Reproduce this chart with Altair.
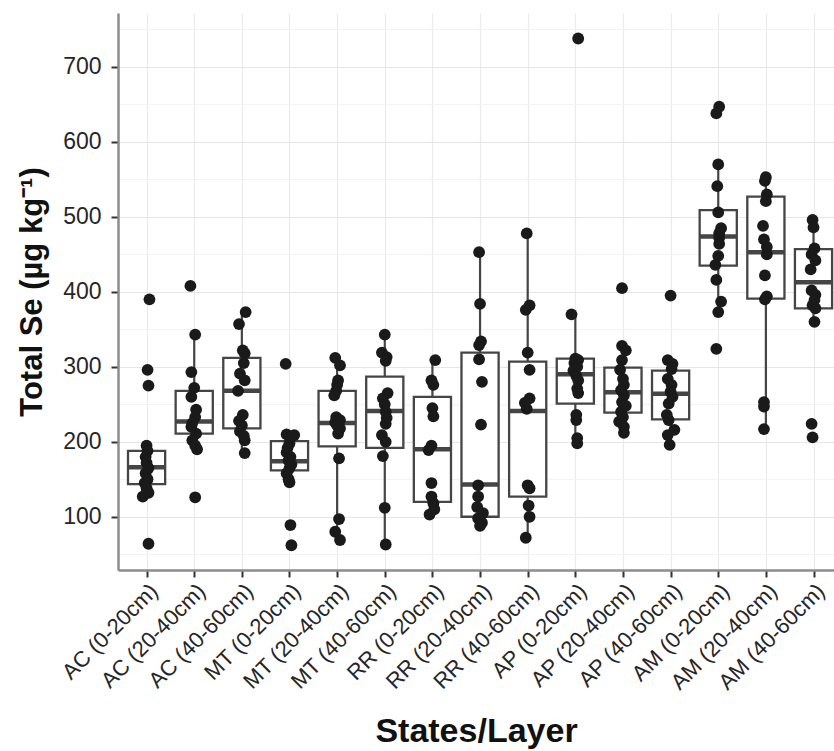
import altair as alt
import pandas as pd

categories = ["AC (0-20cm)", "AC (20-40cm)", "AC (40-60cm)",
              "MT (0-20cm)", "MT (20-40cm)", "MT (40-60cm)",
              "RR (0-20cm)", "RR (20-40cm)", "RR (40-60cm)",
              "AP (0-20cm)", "AP (20-40cm)", "AP (40-60cm)",
              "AM (0-20cm)", "AM (20-40cm)", "AM (40-60cm)"]

# box statistics (ug/kg)
whisker_low = [127, 190, 184, 146, 69, 62, 102, 88, 72, 198, 212, 196, 373, 217, 360]
q1 = [143.6, 211, 218, 162, 194, 192, 120, 100, 127, 251, 239, 230, 435, 391, 378]
median = [166, 227, 268, 174, 225, 241, 190, 143, 241, 290, 266, 264, 474, 453, 413]
q3 = [188, 268, 312, 201, 268, 287, 260, 319, 307, 311, 299, 295, 509, 527, 457]
whisker_high = [195, 343, 372, 209, 312, 343, 309, 453, 478, 370, 328, 309, 570, 553, 496]

# individual samples (ug/kg) and their horizontal jitter (in category widths)
ac_0_20 = [390, 296, 275, 195, 188, 180, 172, 165, 158, 150, 145, 138, 132, 127, 64]
ac_0_20_j = [0.06, 0.02, 0.04, 0.0, 0.02, -0.02, 0.0, 0.04, -0.02, 0.02, -0.04, 0.0, 0.04, -0.08, 0.04]
ac_20_40 = [408, 343, 293, 272, 260, 243, 233, 225, 220, 211, 202, 195, 190, 126]
ac_20_40_j = [-0.08, 0.02, -0.06, 0.0, -0.06, 0.04, 0.02, -0.04, -0.06, 0.04, -0.04, 0.02, 0.06, 0.02]
ac_40_60 = [373, 357, 322, 318, 305, 291, 282, 268, 236, 228, 222, 214, 208, 202, 185]
ac_40_60_j = [0.08, -0.06, 0.02, 0.06, 0.04, -0.04, 0.06, -0.08, 0.02, -0.06, 0.0, -0.04, 0.04, 0.06, 0.06]
mt_0_20 = [304, 210, 209, 205, 198, 192, 186, 180, 175, 170, 165, 158, 150, 146, 89, 62]
mt_0_20_j = [-0.08, -0.06, 0.1, 0.02, 0.0, -0.04, -0.06, 0.02, -0.02, 0.04, 0.0, -0.06, -0.02, 0.0, 0.02, 0.04]
mt_20_40 = [312, 302, 282, 276, 268, 262, 233, 229, 226, 222, 218, 211, 178, 97, 80, 69]
mt_20_40_j = [-0.04, 0.06, 0.02, 0.0, -0.02, -0.06, -0.02, 0.06, -0.04, 0.0, 0.06, 0.02, 0.04, 0.04, -0.04, 0.06]
mt_40_60 = [343, 319, 313, 308, 265, 258, 250, 240, 232, 224, 209, 200, 181, 112, 63]
mt_40_60_j = [0.0, -0.06, 0.04, 0.02, 0.06, -0.04, 0.0, 0.02, 0.04, 0.02, -0.06, 0.02, -0.04, 0.0, 0.02]
rr_0_20 = [309, 282, 276, 245, 234, 195, 189, 145, 127, 118, 110, 103]
rr_0_20_j = [0.06, -0.02, 0.02, 0.0, 0.02, -0.02, -0.08, -0.02, -0.02, 0.02, 0.04, -0.06]
rr_20_40 = [453, 384, 334, 329, 310, 280, 223, 142, 127, 113, 105, 98, 92, 88]
rr_20_40_j = [-0.02, 0.0, 0.02, -0.02, -0.02, 0.04, 0.02, -0.04, -0.04, -0.06, 0.06, -0.04, 0.04, 0.0]
rr_40_60 = [478, 382, 376, 319, 296, 258, 252, 244, 142, 138, 115, 100, 72]
rr_40_60_j = [-0.02, 0.04, -0.04, 0.0, 0.04, 0.04, -0.06, -0.02, 0.0, 0.04, 0.02, 0.04, -0.04]
ap_0_20 = [738, 370, 311, 309, 305, 300, 295, 288, 282, 271, 265, 236, 229, 205, 198]
ap_0_20_j = [0.06, -0.08, 0.0, 0.06, -0.02, 0.04, -0.04, 0.02, 0.06, 0.04, 0.06, 0.02, 0.02, 0.04, 0.04]
ap_20_40 = [405, 328, 322, 309, 296, 284, 276, 269, 262, 253, 248, 240, 233, 227, 220, 212]
ap_20_40_j = [-0.02, -0.02, 0.06, -0.02, -0.06, 0.0, 0.02, -0.04, 0.02, -0.02, 0.06, -0.04, 0.0, -0.08, 0.02, 0.02]
ap_40_60 = [395, 309, 304, 297, 284, 276, 267, 260, 251, 236, 229, 216, 209, 196]
ap_40_60_j = [0.0, -0.06, 0.04, 0.02, -0.06, 0.02, 0.0, 0.04, -0.04, -0.08, -0.04, 0.08, -0.06, -0.02]
am_0_20 = [647, 638, 570, 541, 506, 485, 478, 472, 464, 448, 436, 416, 387, 373, 324]
am_0_20_j = [0.02, -0.04, 0.0, -0.02, 0.0, 0.06, 0.02, 0.02, 0.02, 0.0, -0.06, -0.04, 0.06, 0.0, -0.04]
am_20_40 = [553, 548, 530, 521, 488, 470, 460, 450, 422, 394, 390, 253, 247, 217]
am_20_40_j = [0.0, -0.02, 0.02, 0.0, -0.06, -0.04, 0.02, 0.02, -0.02, 0.02, -0.02, -0.04, -0.04, -0.04]
am_40_60 = [496, 486, 458, 450, 442, 430, 402, 396, 389, 382, 378, 360, 224, 206]
am_40_60_j = [-0.02, 0.0, 0.02, -0.04, 0.04, -0.06, -0.04, 0.04, 0.02, -0.02, 0.04, 0.02, -0.04, -0.02]

samples = [ac_0_20, ac_20_40, ac_40_60, mt_0_20, mt_20_40, mt_40_60,
           rr_0_20, rr_20_40, rr_40_60, ap_0_20, ap_20_40, ap_40_60,
           am_0_20, am_20_40, am_40_60]
jitters = [ac_0_20_j, ac_20_40_j, ac_40_60_j, mt_0_20_j, mt_20_40_j, mt_40_60_j,
           rr_0_20_j, rr_20_40_j, rr_40_60_j, ap_0_20_j, ap_20_40_j, ap_40_60_j,
           am_0_20_j, am_20_40_j, am_40_60_j]

rows = []
for i, (vals, js) in enumerate(zip(samples, jitters)):
    for v, j in zip(vals, js):
        rows.append({"idx": i, "jit": j, "value": v})
pts = pd.DataFrame(rows)

box = pd.DataFrame({"idx": list(range(len(categories))), "wlo": whisker_low, "q1": q1,
                    "med": median, "q3": q3, "whi": whisker_high})

FONT = "Liberation Sans"
label_js = "[" + ",".join("'" + c + "'" for c in categories) + "]"

x_scale = alt.Scale(domain=[-0.6, 14.43], nice=False, zero=False)
y_scale = alt.Scale(domain=[29, 772], nice=False, zero=False)

x_axis = alt.Axis(values=list(range(len(categories))), labelExpr=label_js + "[datum.value]",
                  title="States/Layer", labelAngle=-45, labelAlign="right", labelBaseline="top",
                  labelFontSize=22, labelColor="#262626", labelPadding=3,
                  tickSize=7, tickWidth=2, tickColor="#333333",
                  domainColor="#8c8c8c", domainWidth=2.5,
                  gridColor="#ebebeb", gridWidth=1.2,
                  titleFontSize=34, titleFontWeight="bold", titleColor="#111111",
                  titlePadding=21, labelOverlap=False, labelFlush=False)

major = "datum.value % 100 == 0"
y_axis = alt.Axis(values=list(range(50, 800, 50)),
                  labelExpr=f"{major} ? datum.label : ''",
                  title="Total Se (µg kg⁻¹)",
                  labelFontSize=23, labelColor="#262626", labelPadding=10,
                  tickSize=7, tickWidth=2,
                  tickColor={"condition": {"test": major, "value": "#333333"}, "value": "rgba(0,0,0,0)"},
                  domainColor="#8c8c8c", domainWidth=2.5,
                  gridColor={"condition": {"test": major, "value": "#e6e6e6"}, "value": "#f3f3f3"},
                  gridWidth=1.2,
                  titleFontSize=31, titleFontWeight="bold", titleColor="#111111",
                  titlePadding=14)

whisk = alt.Chart(box).mark_rule(color="#454545", strokeWidth=2.2).encode(
    x=alt.X("idx:Q", scale=x_scale, axis=x_axis),
    y=alt.Y("wlo:Q", scale=y_scale, axis=y_axis),
    y2="whi:Q",
)

rects = alt.Chart(box).transform_calculate(
    xl="datum.idx - 0.39", xr="datum.idx + 0.39"
).mark_rect(fill="white", stroke="#454545", strokeWidth=2.3).encode(
    x=alt.X("xl:Q", scale=x_scale, axis=x_axis),
    x2="xr:Q",
    y=alt.Y("q1:Q", scale=y_scale, axis=y_axis),
    y2="q3:Q",
)

meds = alt.Chart(box).transform_calculate(
    xl="datum.idx - 0.39", xr="datum.idx + 0.39"
).mark_rule(color="#454545", strokeWidth=4.5).encode(
    x=alt.X("xl:Q", scale=x_scale, axis=x_axis),
    x2="xr:Q",
    y=alt.Y("med:Q", scale=y_scale, axis=y_axis),
)

dots = alt.Chart(pts).transform_calculate(
    xj="datum.idx + datum.jit"
).mark_circle(size=139, color="#1a1a1a", opacity=1).encode(
    x=alt.X("xj:Q", scale=x_scale, axis=x_axis),
    y=alt.Y("value:Q", scale=y_scale, axis=y_axis),
)

chart = alt.layer(whisk, rects, meds, dots).properties(
    width=716, height=557, autosize="none",
    padding={"left": 118, "top": 13, "right": 0, "bottom": 181},
    background="white",
).configure_view(stroke=None).configure_axis(
    labelFont=FONT, titleFont=FONT
)

chart.save("out.html", embed_options={"renderer": "svg", "actions": False})
